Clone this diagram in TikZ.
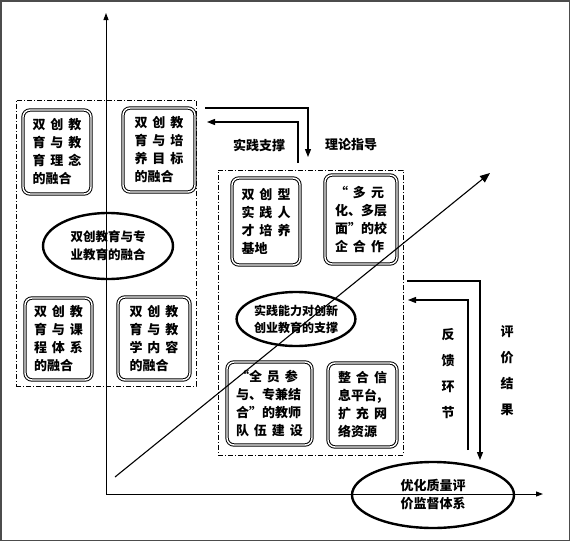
\documentclass[tikz,border=0pt]{standalone}
\usepackage{fontspec}
\setmainfont{Noto Sans CJK SC}
\usetikzlibrary{arrows.meta,shapes.geometric}
\newcommand{\gp}{\hspace{5pt}}

\begin{document}
\begin{tikzpicture}[
      x=1pt, y=-1pt, font=\fontsize{13}{18}\selectfont\bfseries,
      cell/.style={draw, double, double distance=1.4pt, line width=1pt, rounded corners=7pt,
                   fill=white, align=left, inner sep=0pt},
      oval/.style={ellipse, draw, line width=2.4pt, fill=white, align=center, inner sep=0pt},
      grp/.style={draw, dash pattern=on 5pt off 2pt on 1pt off 2pt, line width=0.7pt, inner sep=0pt},
      ar/.style={-{Triangle[length=8pt,width=6pt]}, line width=1.1pt},
      axis/.style={-{Triangle[length=7pt,width=5pt]}, line width=1pt},
      lbl/.style={inner sep=1pt}]
    \useasboundingbox (0,0) rectangle (570,541);
    \draw[black!70, line width=1.5pt] (0.75,0.75) rectangle (569.25,540.25);
    % two groups
    \node[grp, minimum width=180pt, minimum height=286pt] (lgrp) at (106,243) {};
    \node[grp, minimum width=185pt, minimum height=285pt] (rgrp) at (310.5,312.5) {};
    % left group
    \node[cell, minimum width=68pt, minimum height=84pt] (idea)    at (57,152)    {双\gp 创\gp 教\\育\gp 与\gp 教\\育\gp 理\gp 念\\的融合};
    \node[cell, minimum width=72pt, minimum height=84pt] (goal)    at (159,150)   {双\gp 创\gp 教\\育\gp 与\gp 培\\养\gp 目\gp 标\\的融合};
    \node[cell, minimum width=67pt, minimum height=82pt] (course)  at (58.5,339)  {双\gp 创\gp 教\\育\gp 与\gp 课\\程\gp 体\gp 系\\的融合};
    \node[cell, minimum width=72pt, minimum height=83pt] (content) at (154,338.5) {双\gp 创\gp 教\\育\gp 与\gp 教\\学\gp 内\gp 容\\的融合};
    \node[oval, minimum width=130pt, minimum height=66pt, font=\fontsize{12.5}{18}\selectfont\bfseries] (fuse) at (108,246) {双创教育与专\\业教育的融合};
    % right group
    \node[cell, minimum width=68pt, minimum height=87pt] (base)  at (266,221.5)   {双\gp 创\gp 型\\实\gp 践\gp 人\\才\gp 培\gp 养\\基地};
    \node[cell, minimum width=72pt, minimum height=89pt] (coop)  at (361,219.5)   {“\gp 多\gp 元\\化、多层\\面”的校\\企\gp 合\gp 作};
    \node[cell, minimum width=85pt, minimum height=83pt] (team)  at (269.5,403.5) {“全\gp 员\gp 参\\与、专兼结\\合”的教师\\队\gp 伍\gp 建\gp 设};
    \node[cell, minimum width=69pt, minimum height=84pt] (info)  at (362.5,405)   {整\gp 合\gp 信\\息平台,\\扩\gp 充\gp 网\\络资源};
    \node[oval, minimum width=106pt, minimum height=54pt, font=\fontsize{12}{17}\selectfont\bfseries] (support) at (296,319) {实践能力对创新\\创业教育的支撑};
    % evaluation
    \node[oval, minimum width=162pt, minimum height=66pt] (evalsys) at (433,495) {优化质量评\\价监督体系};
    % axes
    \coordinate (o)    at (106,494);
    \coordinate (ytop) at (106,13);
    \coordinate (xend) at (543,494);
    \draw[axis] (o) -- (ytop);
    \draw[axis] (o) -- (xend);
    % links between the groups
    \coordinate (pracS) at (298,163);
    \coordinate (pracE) at (207,122);
    \draw[ar] (pracS) |- (pracE);
    \node[lbl] (prac) at (259,145) {实践支撑};
    \coordinate (theoS) at (205,108);
    \coordinate (theoE) at (308,157);
    \draw[ar] (theoS) -| (theoE);
    \node[lbl] (theo) at (351,145) {理论指导};
    \coordinate (evalS) at (407,281);
    \coordinate (evalE) at (480,460);
    \draw[ar] (evalS) -| (evalE);
    \node[lbl, align=center, font=\fontsize{13}{26}\selectfont\bfseries] (res) at (507,371) {评\\价\\结\\果};
    \coordinate (fbS) at (468,450);
    \coordinate (fbE) at (408,300);
    \draw[ar] (fbS) |- (fbE);
    \node[lbl, align=center, font=\fontsize{13}{26}\selectfont\bfseries] (fb) at (448,374) {反\\馈\\环\\节};
    % diagonal
    \coordinate (dS) at (115,477);
    \coordinate (dE) at (490,173);
    \draw[-{Triangle[length=10pt,width=8pt]}, line width=1.1pt] (dS) -- (dE);
  \end{tikzpicture}
\end{document}
